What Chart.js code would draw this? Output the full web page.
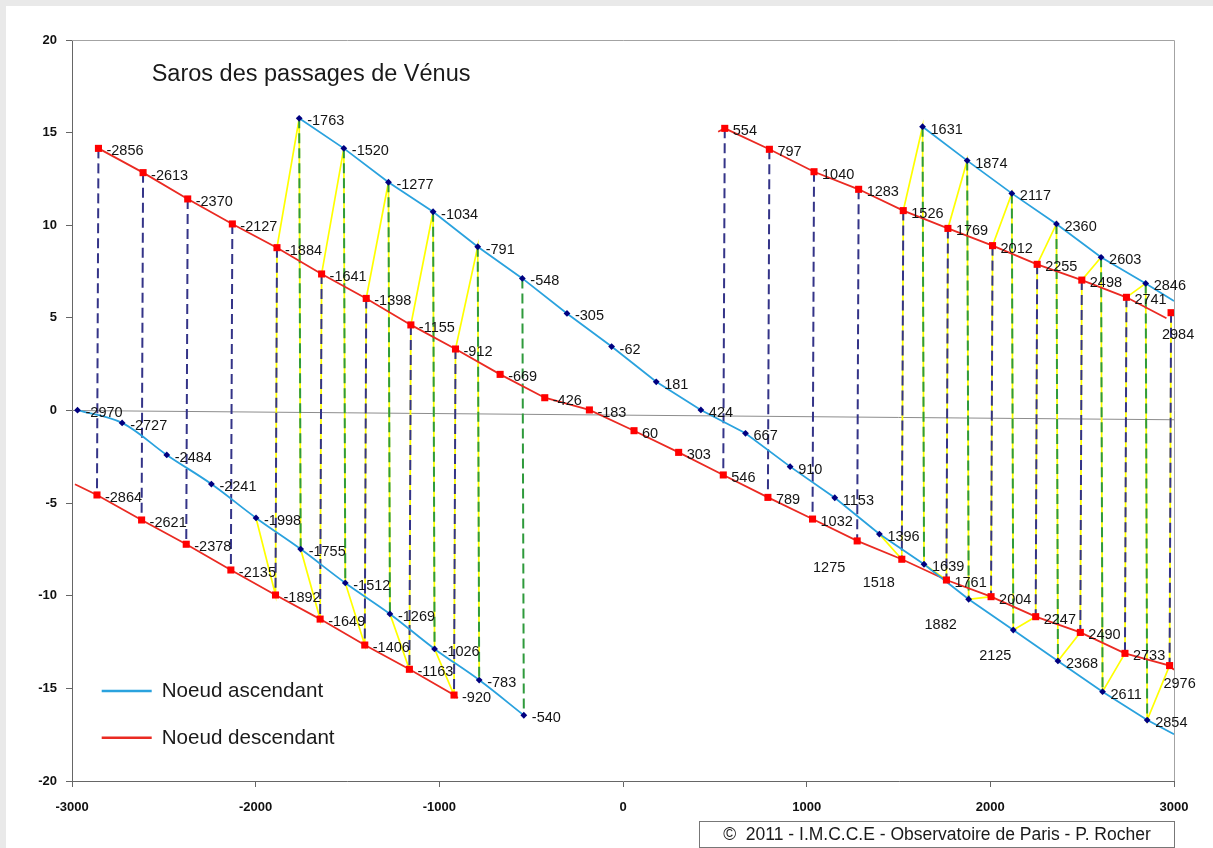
<!DOCTYPE html>
<html><head><meta charset="utf-8">
<script src="https://cdn.jsdelivr.net/npm/chart.js@4.4.1/dist/chart.umd.min.js"></script>
<style>
html,body{margin:0;padding:0;background:#e9e9e9;width:1213px;height:848px;overflow:hidden;}
#wrap{position:absolute;left:6px;top:6px;width:1207px;height:842px;background:#fff;}
canvas{display:block;}
</style></head><body>
<div id="wrap"><canvas id="c" width="1207" height="842"></canvas></div>
<script>
// ---- Data (years, latitude) ----
// Noeud ascendant (blue)
const ascMainYears = [-1763,-1520,-1277,-1034,-791,-548,-305,-62,181,424,667,910,1153,1396,1639,1882,2125,2368,2611,2854];
const ascMainLat   = [15.77,14.15,12.32,10.73,8.84,7.13,5.24,3.45,1.55,0.03,-1.23,-3.03,-4.71,-6.67,-8.30,-10.19,-11.85,-13.52,-15.18,-16.71];
const ascLowYears  = [-2970,-2727,-2484,-2241,-1998,-1755,-1512,-1269,-1026,-783,-540];
const ascLowLat    = [0.02,-0.67,-2.40,-3.97,-5.80,-7.48,-9.31,-10.98,-12.87,-14.55,-16.45];
const ascHighYears = [1631,1874,2117,2360,2603,2846];
const ascHighLat   = [15.32,13.49,11.72,10.07,8.27,6.86];
// Noeud descendant (red)
const descMainYears = [-2856,-2613,-2370,-2127,-1884,-1641,-1398,-1155,-912,-669,-426,-183,60,303,546,789,1032,1275,1518,1761,2004,2247,2490,2733,2976];
const descMainLat   = [14.15,12.84,11.42,10.07,8.79,7.37,6.05,4.62,3.32,1.95,0.69,0.03,-1.09,-2.26,-3.48,-4.69,-5.86,-7.04,-8.03,-9.15,-10.05,-11.13,-11.98,-13.11,-13.77];
const descLowYears  = [-2864,-2621,-2378,-2135,-1892,-1649,-1406,-1163,-920];
const descLowLat    = [-4.56,-5.91,-7.22,-8.61,-9.96,-11.26,-12.66,-13.97,-15.36];
const descHighYears = [554,797,1040,1283,1526,1769,2012,2255,2498,2741,2984];
const descHighLat   = [15.23,14.10,12.89,11.94,10.79,9.83,8.90,7.89,7.04,6.11,5.28];
// visible ends of the drawn lines
const ascMainLineEnd    = [3000,-17.48];
const ascHighLineEnd    = [3000,5.91];
const descMainLineEnd   = [3000,-14.0];
const descLowLineStart  = [-2984,-3.98];
const descLowLineEnd    = [-899,-15.52];
const descHighLineStart = [518,15.05];
const descHighLineEnd   = [2959,4.98];
// reference (grey) line
const refYears = [-3000,3000];
const refLat   = [0,-0.5];
// ranges of the yellow chronological path
const yellowRanges = [[-1998,-783],[1396,2984]];
// axis ticks
const xTicks = [-3000,-2000,-1000,0,1000,2000,3000];
const yTicks = [-20,-15,-10,-5,0,5,10,15,20];

const F = "'Liberation Sans', Arial, Helvetica, sans-serif";
const BLUE = '#2aa2de', RED = '#ea2a22', NAVY = '#000080', MRED = '#ff0000';
const pts = (ys, ls) => ys.map((v,i)=>({x:v, y:ls[i]}));
const P = a => ({x:a[0], y:a[1]});

const datasets = [];
// markers (top)
const markerSets = [
  {ys:ascMainYears, ls:ascMainLat, asc:true},
  {ys:ascLowYears, ls:ascLowLat, asc:true},
  {ys:ascHighYears, ls:ascHighLat, asc:true},
  {ys:descMainYears, ls:descMainLat, asc:false},
  {ys:descLowYears, ls:descLowLat, asc:false},
  {ys:descHighYears, ls:descHighLat, asc:false},
];
markerSets.forEach(m => datasets.push({
  data: pts(m.ys, m.ls), showLine:false, order:0,
  pointStyle: m.asc ? 'rectRot' : 'rect',
  pointRadius: m.asc ? 3.4 : 5,
  backgroundColor: m.asc ? NAVY : MRED, borderColor: m.asc ? NAVY : MRED, borderWidth:0
}));
// main lines
function line(data, color, tension){
  datasets.push({data, showLine:true, pointRadius:0, borderColor:color, borderWidth:1.8, tension:tension||0, order:1});
}
line(pts(ascMainYears, ascMainLat).concat([P(ascMainLineEnd)]), BLUE);
line(pts(ascLowYears, ascLowLat), BLUE, 0.35);
line(pts(ascHighYears, ascHighLat).concat([P(ascHighLineEnd)]), BLUE);
line(pts(descMainYears, descMainLat).concat([P(descMainLineEnd)]), RED);
line([P(descLowLineStart)].concat(pts(descLowYears, descLowLat), [P(descLowLineEnd)]), RED);
line([P(descHighLineStart)].concat(pts(descHighYears.slice(0,-1), descHighLat.slice(0,-1)), [P(descHighLineEnd)]), RED);
// dashed pairs (8 years apart)
function pairs(uy, ul, ly, ll, diff, color){
  uy.forEach((y,i) => {
    const j = ly.indexOf(y + diff);
    if (j >= 0) datasets.push({data:[{x:y,y:ul[i]},{x:ly[j],y:ll[j]}], showLine:true, pointRadius:0,
      borderColor:color, borderWidth:2, borderDash:[10,5], order:2});
  });
}
pairs(descMainYears, descMainLat, descLowYears, descLowLat, -8, '#343488');
pairs(descHighYears, descHighLat, descMainYears, descMainLat, -8, '#343488');
pairs(ascMainYears, ascMainLat, ascLowYears, ascLowLat, 8, '#2e9a3c');
pairs(ascHighYears, ascHighLat, ascMainYears, ascMainLat, 8, '#2e9a3c');
// yellow chronological path
const allPts = [];
markerSets.forEach(m => m.ys.forEach((y,i)=>allPts.push({x:y, y:m.ls[i]})));
allPts.sort((a,b)=>a.x-b.x);
yellowRanges.forEach(r => datasets.push({data: allPts.filter(p=>p.x>=r[0] && p.x<=r[1]), showLine:true,
  pointRadius:0, borderColor:'#ffff00', borderWidth:1.7, order:3}));
// grey reference
datasets.push({data: pts(refYears, refLat), showLine:true, pointRadius:0, borderColor:'#8c8c8c', borderWidth:1, order:4});

const labelOffsets = {1275:[-28,27], 1518:[-23,24], 1882:[-28,26], 2125:[-18,26], 2984:[7,22], 2976:[10,18]};

const deco = {
  id:'deco',
  beforeDatasetsDraw(chart){
    const {ctx, chartArea:a} = chart;
    ctx.save();
    ctx.strokeStyle = '#a3a3a3'; ctx.lineWidth = 1;
    ctx.beginPath();
    ctx.moveTo(a.left, a.top+0.5); ctx.lineTo(a.right+0.5, a.top+0.5); ctx.lineTo(a.right+0.5, a.bottom);
    ctx.stroke();
    ctx.restore();
  },
  afterDatasetsDraw(chart){
    const {ctx, scales:{x,y}} = chart;
    ctx.save();
    ctx.fillStyle = '#141414';
    ctx.font = '14.5px ' + F;
    ctx.textBaseline = 'middle';
    markerSets.forEach(m => m.ys.forEach((yr,i) => {
      const px = x.getPixelForValue(yr), py = y.getPixelForValue(m.ls[i]);
      const o = labelOffsets[yr];
      if (o) { ctx.textAlign='center'; ctx.fillText(String(yr), px+o[0], py+o[1]); }
      else { ctx.textAlign='left'; ctx.fillText(String(yr), px+8, py+3); }
    }));
    // title
    ctx.textAlign='left'; ctx.textBaseline='alphabetic';
    ctx.fillStyle = '#1a1a1a';
    ctx.font = '23.5px ' + F;
    ctx.fillText('Saros des passages de Vénus', 145.7, 75);
    // legend
    ctx.font = '20.6px ' + F;
    [[BLUE,'Noeud ascendant',685,690.8],[RED,'Noeud descendant',731.7,737.5]].forEach(l => {
      ctx.strokeStyle = l[0]; ctx.lineWidth = 2.5;
      ctx.beginPath(); ctx.moveTo(95.7,l[2]); ctx.lineTo(145.7,l[2]); ctx.stroke();
      ctx.fillText(l[1], 155.7, l[3]);
    });
    // copyright box
    ctx.strokeStyle = '#777'; ctx.lineWidth = 1;
    ctx.strokeRect(693.5, 815.5, 475, 26);
    ctx.font = '17.5px ' + F; ctx.textAlign='center'; ctx.textBaseline='middle';
    ctx.fillText('©  2011 - I.M.C.C.E - Observatoire de Paris - P. Rocher', 931, 829);
    ctx.restore();
  }
};

const tickFont = {family:F, size:13, weight:'bold'};
new Chart(document.getElementById('c'), {
  type:'scatter',
  data:{datasets},
  options:{
    responsive:false, animation:false, events:[], devicePixelRatio:1,
    layout:{padding:{left:0, right:39, top:34, bottom:0}},
    plugins:{legend:{display:false}, tooltip:{enabled:false}, title:{display:false}},
    scales:{
      x:{type:'linear', min:-3000, max:3000,
        afterBuildTicks: s => { s.ticks = xTicks.map(v=>({value:v})); },
        ticks:{color:'#111', font:tickFont, padding:13, maxRotation:0, callback:v=>String(v)},
        grid:{display:true, drawOnChartArea:false, drawTicks:true, tickLength:6, color:'#666'},
        border:{display:true, color:'#666', width:1},
        afterFit: s => { s.height = 67; }},
      y:{type:'linear', min:-20, max:20,
        afterBuildTicks: s => { s.ticks = yTicks.map(v=>({value:v})); },
        ticks:{color:'#111', font:tickFont, padding:9, callback:v=>String(v)},
        grid:{display:true, drawOnChartArea:false, drawTicks:true, tickLength:6, color:'#666'},
        border:{display:true, color:'#666', width:1},
        afterFit: s => { s.width = 66; }}
    }
  },
  plugins:[deco]
});
</script></body></html>
